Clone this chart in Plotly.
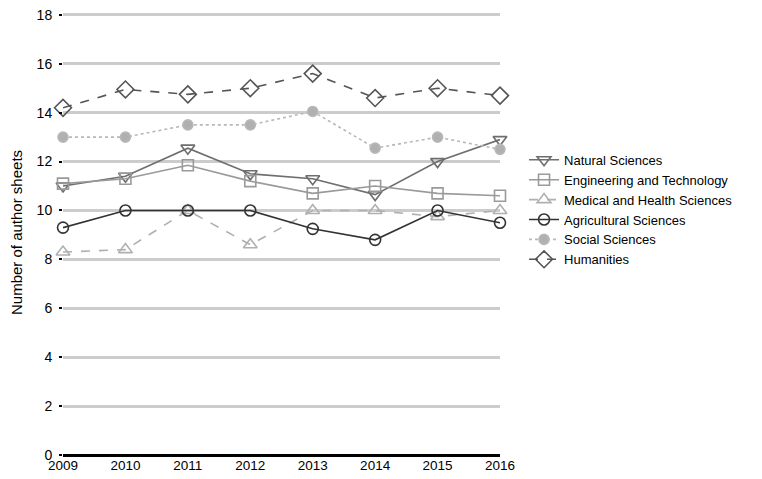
import plotly.graph_objects as go

years = [2009, 2010, 2011, 2012, 2013, 2014, 2015, 2016]
natural = [11.0, 11.4, 12.55, 11.5, 11.3, 10.65, 12.0, 12.9]
engineering = [11.1, 11.3, 11.85, 11.2, 10.7, 11.0, 10.7, 10.6]
medical = [8.3, 8.4, 10.0, 8.6, 10.0, 10.0, 9.75, 10.0]
agricultural = [9.3, 10.0, 10.0, 10.0, 9.25, 8.8, 10.0, 9.5]
social = [13.0, 13.0, 13.5, 13.5, 14.05, 12.55, 13.0, 12.5]
humanities = [14.2, 14.95, 14.75, 15.0, 15.6, 14.6, 15.0, 14.7]
y_ticks = [0, 2, 4, 6, 8, 10, 12, 14, 16, 18]

series = [
    ("Natural Sciences", natural, "#6e6e6e", "solid", "triangle-down-open", 12),
    ("Engineering and Technology", engineering, "#9a9a9a", "solid", "square-open", 11),
    ("Medical and Health Sciences", medical, "#b0b0b0", "dash", "triangle-up-open", 12),
    ("Agricultural Sciences", agricultural, "#333333", "solid", "circle-open", 11),
    ("Social Sciences", social, "#b8b8b8", "dot", "circle", 10),
    ("Humanities", humanities, "#555555", "dash", "diamond-open", 13),
]

fig = go.Figure()
for name, vals, color, dash, sym, size in series:
    fig.add_trace(go.Scatter(
        x=years, y=vals, name=name, mode="lines+markers",
        line=dict(color=color, width=1.6, dash=dash),
        marker=dict(symbol=sym, size=size,
                    color=color if "open" in sym else "#b0b0b0",
                    line=dict(color=color, width=1.6)),
        cliponaxis=False,
    ))

fig.update_layout(
    width=754, height=471,
    margin=dict(l=55, r=262, t=2, b=24, autoexpand=False),
    paper_bgcolor="white", plot_bgcolor="white",
    font=dict(family="Liberation Sans, Arial, sans-serif", size=13, color="#000"),
    legend=dict(x=1.055, y=0.697, xanchor="left", yanchor="top",
                font=dict(size=13), tracegroupgap=0, itemwidth=30,
                bgcolor="rgba(0,0,0,0)"),
    showlegend=True,
)
fig.update_xaxes(
    range=[2009, 2016], tickvals=years, ticktext=[str(y) for y in years],
    showgrid=False, zeroline=False, showline=False, ticks="",
    tickfont=dict(size=13.5), automargin=False, ticklabeloverflow="allow",
)
fig.update_yaxes(
    range=[0, 18.2], tickvals=y_ticks,
    showgrid=True, gridcolor="#cccccc", gridwidth=2.5,
    zeroline=True, zerolinecolor="#000", zerolinewidth=3,
    ticks="outside", ticklen=3, tickwidth=2, tickcolor="#000",
    ticklabelstandoff=4, ticklabeloverflow="allow",
    title=dict(text="Number of author sheets", font=dict(size=15), standoff=14),
    tickfont=dict(size=14), automargin=False,
)
fig.write_html("out.html")
